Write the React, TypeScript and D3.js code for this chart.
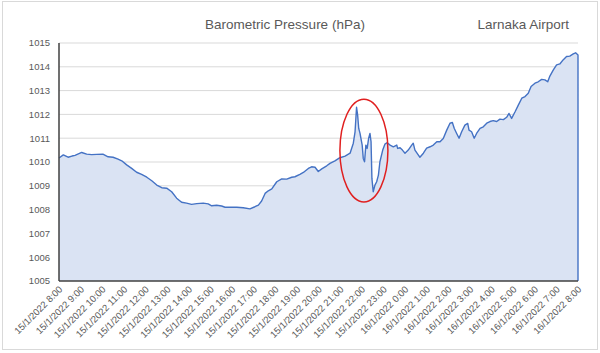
import { useEffect, useRef } from "react";
import * as d3 from "d3";

// hours after 15/1/2022 8:00
const hours = [
  0, 0.2, 0.42, 0.6, 0.74, 1.05, 1.28, 1.51, 1.74, 2.03, 2.27, 2.5, 2.73, 2.9, 3.13, 3.36,
  3.59, 3.82, 4.06, 4.29, 4.52, 4.75, 4.98, 5.21, 5.44, 5.67, 5.9, 6.13, 6.37, 6.67, 6.9,
  7.06, 7.29, 7.52, 7.68, 7.91, 8.22, 8.52, 8.83, 9.06, 9.22, 9.37, 9.53, 9.68, 9.84, 10.07,
  10.3, 10.53, 10.76, 10.91, 11.14, 11.3, 11.53, 11.68, 11.84, 11.99, 12.15, 12.38, 12.53,
  12.76, 12.99, 13.23, 13.46, 13.61, 13.69, 13.76, 13.81, 13.86, 13.92, 13.96, 14.02, 14.07,
  14.13, 14.19, 14.25, 14.32, 14.38, 14.43, 14.47, 14.53, 14.61, 14.69, 14.77, 14.84, 14.97,
  15.07, 15.18, 15.31, 15.46, 15.62, 15.66, 15.77, 15.88, 16.0, 16.15, 16.31, 16.38, 16.46,
  16.62, 16.69, 16.85, 17.0, 17.16, 17.31, 17.47, 17.62, 17.77, 17.93, 18.08, 18.19, 18.28,
  18.39, 18.5, 18.62, 18.77, 18.9, 18.96, 19.08, 19.2, 19.31, 19.47, 19.62, 19.78, 19.93,
  20.08, 20.24, 20.39, 20.55, 20.7, 20.81, 20.93, 21.09, 21.24, 21.4, 21.55, 21.7, 21.83,
  22.01, 22.16, 22.32, 22.47, 22.6, 22.7, 22.86, 23.01, 23.16, 23.31, 23.47, 23.62, 23.78,
  23.89, 24.0,
];

const pressure = [
  1010.17, 1010.3, 1010.2, 1010.25, 1010.28, 1010.4, 1010.33, 1010.31, 1010.32, 1010.33,
  1010.22, 1010.2, 1010.12, 1010.05, 1009.88, 1009.73, 1009.57, 1009.48, 1009.36, 1009.21,
  1009.03, 1008.92, 1008.9, 1008.75, 1008.48, 1008.31, 1008.27, 1008.22, 1008.25, 1008.27,
  1008.24, 1008.16, 1008.18, 1008.15, 1008.1, 1008.1, 1008.1, 1008.08, 1008.03, 1008.12,
  1008.19, 1008.36, 1008.68, 1008.79, 1008.87, 1009.17, 1009.29, 1009.28, 1009.36, 1009.38,
  1009.48, 1009.56, 1009.73, 1009.8, 1009.78, 1009.6, 1009.71, 1009.84, 1009.94, 1010.05,
  1010.18, 1010.25, 1010.37, 1010.79, 1011.27, 1012.3, 1011.97, 1011.41, 1011.2, 1011.0,
  1010.71, 1010.15, 1010.01, 1010.71, 1010.57, 1011.0, 1011.2, 1010.85, 1009.31, 1008.75,
  1009.03, 1009.17, 1009.45, 1010.01, 1010.5, 1010.75, 1010.81, 1010.71, 1010.64, 1010.71,
  1010.57, 1010.6, 1010.5, 1010.37, 1010.5, 1010.71, 1010.79, 1010.5, 1010.29, 1010.2,
  1010.37, 1010.58, 1010.64, 1010.71, 1010.85, 1010.85, 1010.99, 1011.34, 1011.63, 1011.66,
  1011.41, 1011.2, 1011.0, 1011.27, 1011.55, 1011.62, 1011.34, 1011.27, 1011.0, 1011.2,
  1011.41, 1011.48, 1011.63, 1011.7, 1011.74, 1011.7, 1011.8, 1011.78, 1011.88, 1012.04,
  1011.83, 1012.11, 1012.39, 1012.68, 1012.75, 1012.89, 1013.17, 1013.31, 1013.37, 1013.47,
  1013.45, 1013.37, 1013.61, 1013.87, 1014.08, 1014.12, 1014.29, 1014.43, 1014.45, 1014.54,
  1014.59, 1014.5,
];

const hourLabels = [
  "15/1/2022 8:00", "15/1/2022 9:00", "15/1/2022 10:00", "15/1/2022 11:00",
  "15/1/2022 12:00", "15/1/2022 13:00", "15/1/2022 14:00", "15/1/2022 15:00",
  "15/1/2022 16:00", "15/1/2022 17:00", "15/1/2022 18:00", "15/1/2022 19:00",
  "15/1/2022 20:00", "15/1/2022 21:00", "15/1/2022 22:00", "15/1/2022 23:00",
  "16/1/2022 0:00", "16/1/2022 1:00", "16/1/2022 2:00", "16/1/2022 3:00",
  "16/1/2022 4:00", "16/1/2022 5:00", "16/1/2022 6:00", "16/1/2022 7:00",
  "16/1/2022 8:00",
];

const yTicks = [1005, 1006, 1007, 1008, 1009, 1010, 1011, 1012, 1013, 1014, 1015];

// red ring drawn around the squall (centre hour, centre hPa, half-width h, half-height hPa)
const ring = { hour: 14.1, hpa: 1010.48, rxHours: 1.11, ryHpa: 2.16 };

const W = 600;
const H = 353;
const FONT = "'Liberation Sans', Arial, sans-serif";

export default function App() {
  const svgRef = useRef<SVGSVGElement>(null);

  useEffect(() => {
    const svg = d3.select(svgRef.current);
    svg.selectAll("*").remove();

    const margin = { top: 43, right: 22, bottom: 72, left: 59 };
    const innerW = W - margin.left - margin.right;
    const innerH = H - margin.top - margin.bottom;

    const x = d3.scaleLinear().domain([0, 24]).range([0, innerW]);
    const y = d3.scaleLinear().domain([1005, 1015]).range([innerH, 0]);

    const pts = hours.map((h, i) => [h, pressure[i]] as [number, number]);

    // outer chart border
    svg.append("rect")
      .attr("x", 2.5).attr("y", 1.5).attr("width", W - 5).attr("height", H - 5)
      .attr("fill", "#fff").attr("stroke", "#d9d9d9");

    const g = svg.append("g").attr("transform", `translate(${margin.left},${margin.top})`);

    // gridlines
    g.append("g")
      .selectAll("line")
      .data(yTicks.slice(1))
      .join("line")
      .attr("x1", 0).attr("x2", innerW)
      .attr("y1", (d) => y(d)).attr("y2", (d) => y(d))
      .attr("stroke", "#d9d9d9").attr("stroke-width", 1);

    // area
    const area = d3.area<[number, number]>()
      .x((d) => x(d[0]))
      .y0(y(1005))
      .y1((d) => y(d[1]));
    g.append("path").datum(pts).attr("d", area).attr("fill", "#dae3f3");

    // series line incl. right drop edge
    const line = d3.line<[number, number]>().x((d) => x(d[0])).y((d) => y(d[1]));
    const last = pts[pts.length - 1];
    g.append("path")
      .datum([...pts, [last[0], 1005] as [number, number]])
      .attr("d", line)
      .attr("fill", "none")
      .attr("stroke", "#4472c4")
      .attr("stroke-width", 1.4)
      .attr("stroke-linejoin", "round");

    // axes lines
    g.append("line").attr("x1", 0).attr("x2", 0).attr("y1", 0).attr("y2", innerH)
      .attr("stroke", "#404040").attr("stroke-width", 1.5);
    g.append("line").attr("x1", 0).attr("x2", innerW).attr("y1", innerH).attr("y2", innerH)
      .attr("stroke", "#404040").attr("stroke-width", 1.5);

    // y tick labels
    g.append("g")
      .selectAll("text")
      .data(yTicks)
      .join("text")
      .attr("x", -9)
      .attr("y", (d) => y(d))
      .attr("dy", "0.35em")
      .attr("text-anchor", "end")
      .attr("font-family", FONT)
      .attr("font-size", 9.5)
      .attr("fill", "#595959")
      .text((d) => d);

    // x tick labels, rotated
    g.append("g")
      .selectAll("text")
      .data(hourLabels)
      .join("text")
      .attr("transform", (_, i) => `translate(${x(i) + 4},${innerH + 9}) rotate(-45)`)
      .attr("text-anchor", "end")
      .attr("font-family", FONT)
      .attr("font-size", 9.5)
      .attr("fill", "#595959")
      .text((d) => d);

    // red annotation ring
    g.append("ellipse")
      .attr("cx", x(ring.hour))
      .attr("cy", y(ring.hpa))
      .attr("rx", x(ring.rxHours) - x(0))
      .attr("ry", y(1005) - y(1005 + ring.ryHpa))
      .attr("fill", "none")
      .attr("stroke", "#e02020")
      .attr("stroke-width", 1.5);

    // titles
    svg.append("text")
      .attr("x", 285).attr("y", 29)
      .attr("text-anchor", "middle")
      .attr("font-family", FONT).attr("font-size", 13.5).attr("fill", "#595959")
      .text("Barometric Pressure (hPa)");
    svg.append("text")
      .attr("x", 569).attr("y", 29)
      .attr("text-anchor", "end")
      .attr("font-family", FONT).attr("font-size", 13.5).attr("fill", "#595959")
      .text("Larnaka Airport");
  }, []);

  return (
    <svg
      ref={svgRef}
      width={W}
      height={H}
      style={{ position: "absolute", left: 0, top: 0, background: "#fff" }}
    />
  );
}
